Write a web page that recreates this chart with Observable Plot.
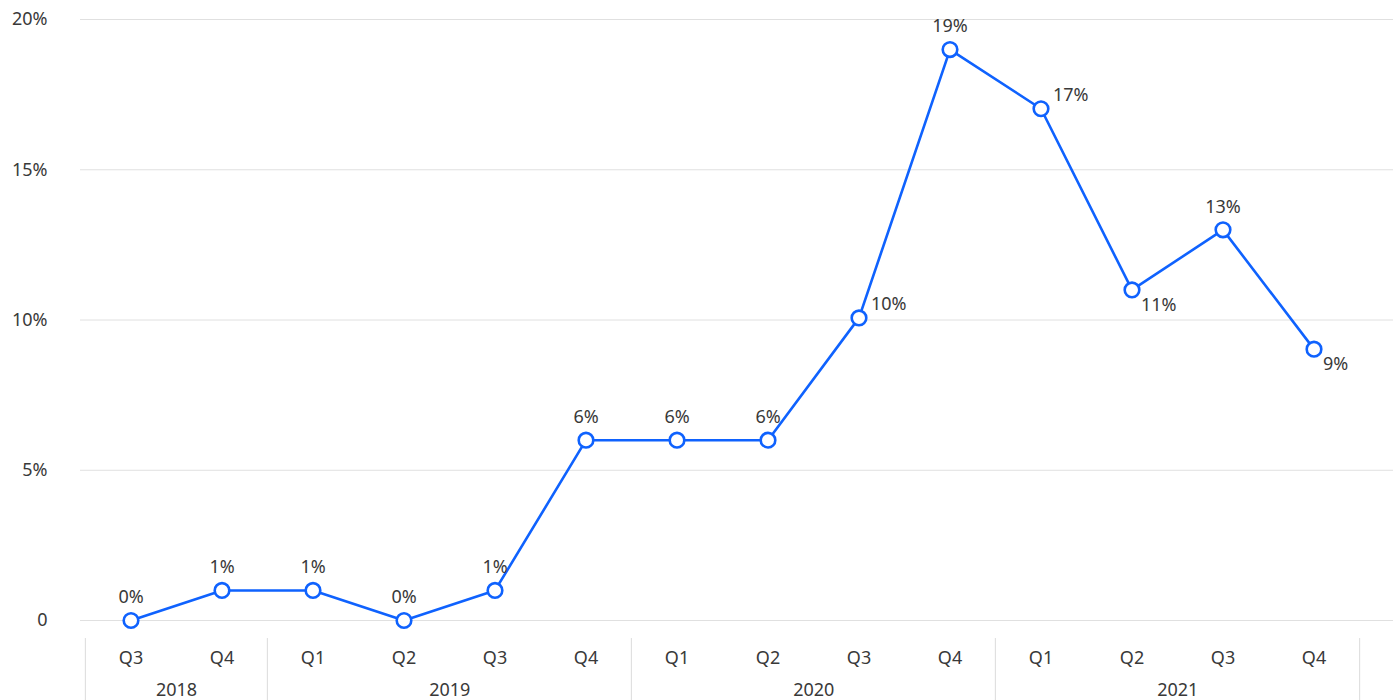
<!DOCTYPE html>
<html>
<head>
<meta charset="utf-8">
<script src="https://cdn.jsdelivr.net/npm/d3@7"></script>
<script src="https://cdn.jsdelivr.net/npm/@observablehq/plot@0.6"></script>
<style>
  html, body { margin: 0; padding: 0; background: #fff; }
  #chart svg { display: block; }
</style>
</head>
<body>
<div id="chart"></div>
<script>
const years    = ["2018","2018","2019","2019","2019","2019","2020","2020","2020","2020","2021","2021","2021","2021"];
const quarters = ["Q3","Q4","Q1","Q2","Q3","Q4","Q1","Q2","Q3","Q4","Q1","Q2","Q3","Q4"];
const values   = [0, 1, 1, 0, 1, 6, 6, 6, 10.07, 19, 17.03, 11, 13, 9.03];
const yTicks   = [0, 5, 10, 15, 20];

const data = values.map((v, i) => ({key: years[i] + " " + quarters[i], year: years[i], q: quarters[i], v, i}));
const keys = data.map(d => d.key);

// label placement (style, by index)
const placeRight = new Set([8, 10]);
const placeBelow = new Set([11, 13]);

const blue = "#0f62fe";
const textColor = "#393939";
const gridColor = "#e0e0e0";
const font = "'Noto Sans', sans-serif";
const fs = 18;

const x0 = 84.4, x1 = 1360.6;
const bw = (x1 - x0) / keys.length;

const yearGroups = d3.groups(data, d => d.year).map(([year, rows]) => ({year, first: rows[0].key, n: rows.length}));

const yearTextMarks = yearGroups.map(g =>
  Plot.text([g], {x: "first", y: 0, text: "year", dx: (g.n - 1) * bw / 2, dy: 70, fontSize: fs, fill: textColor})
);

const chart = Plot.plot({
  width: 1393,
  height: 700,
  marginLeft: 80,
  marginRight: 0,
  marginTop: 19,
  marginBottom: 80,
  style: {fontFamily: font, fontSize: fs + "px", color: textColor, background: "#fff"},
  x: {type: "band", domain: keys, range: [x0, x1], padding: 0},
  y: {domain: [0, 20], ticks: yTicks},
  marks: [
    Plot.ruleY(yTicks, {stroke: gridColor, strokeWidth: 1}),
    Plot.axisY({ticks: yTicks, tickSize: 0, tickPadding: 33, tickFormat: d => d === 0 ? "0" : d + "%", fontSize: fs, fill: textColor, label: null}),
    Plot.axisX({tickSize: 0, tickPadding: 31, tickFormat: k => k.split(" ")[1], fontSize: fs, fill: textColor, label: null}),
    Plot.ruleX(yearGroups, {x: "first", dx: -bw / 2, y1: -0.6, y2: -2.8, stroke: gridColor, strokeWidth: 1.2}),
    Plot.ruleX([keys[keys.length - 1]], {dx: bw / 2, y1: -0.6, y2: -2.8, stroke: gridColor, strokeWidth: 1.2}),
    ...yearTextMarks,
    Plot.line(data, {x: "key", y: "v", stroke: blue, strokeWidth: 2.6}),
    Plot.dot(data, {x: "key", y: "v", r: 7.3, fill: "#fff", stroke: blue, strokeWidth: 2.6}),
    Plot.text(data.filter(d => !placeRight.has(d.i) && !placeBelow.has(d.i)), {x: "key", y: "v", text: d => Math.round(d.v) + "%", dy: -23, fontSize: fs, fill: textColor}),
    Plot.text(data.filter(d => placeRight.has(d.i)), {x: "key", y: "v", text: d => Math.round(d.v) + "%", dx: 12, dy: -14, textAnchor: "start", fontSize: fs, fill: textColor}),
    Plot.text(data.filter(d => placeBelow.has(d.i)), {x: "key", y: "v", text: d => Math.round(d.v) + "%", dx: 9, dy: 15, textAnchor: "start", fontSize: fs, fill: textColor})
  ]
});

document.getElementById("chart").appendChild(chart);
</script>
</body>
</html>
